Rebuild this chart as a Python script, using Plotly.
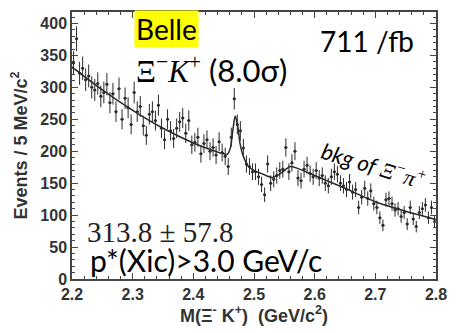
import plotly.graph_objects as go

# ---- data ----
bin_width = 0.005
bin_centers = [round(2.2025 + 0.005 * i, 4) for i in range(120)]
events = [
    338, 376, 322, 330, 312, 318, 300, 296, 306, 286, 292, 305, 276, 290, 262, 298, 250, 283, 268, 242,
    292, 262, 270, 240, 225, 258, 262, 248, 272, 236, 218, 250, 232, 220, 236, 246, 252, 228, 248, 210,
    214, 222, 196, 212, 218, 200, 206, 194, 215, 198, 192, 176, 222, 282, 242, 232, 205, 180, 176, 168,
    168, 160, 148, 132, 180, 150, 156, 162, 170, 172, 206, 168, 182, 200, 158, 154, 172, 178, 165, 160,
    170, 158, 162, 150, 146, 160, 168, 164, 150, 146, 140, 152, 136, 140, 112, 128, 142, 126, 138, 118,
    112, 96, 84, 124, 126, 118, 108, 110, 98, 104, 86, 112, 94, 82, 104, 110, 116, 96, 112, 90,
]
fit_x = [2.20, 2.25, 2.30, 2.35, 2.40, 2.43, 2.45, 2.456, 2.461, 2.465, 2.469, 2.473, 2.477,
         2.481, 2.486, 2.49, 2.50, 2.515, 2.53, 2.545, 2.56, 2.575, 2.59, 2.60, 2.65, 2.70, 2.75, 2.80]
fit_y = [332, 296, 264, 236, 213, 202, 196, 195, 205, 232, 255, 240, 212,
         196, 184, 177, 170, 164, 159, 166, 176, 172, 166, 162, 142, 121, 106, 93]

x_ticks = [2.2, 2.3, 2.4, 2.5, 2.6, 2.7, 2.8]
y_ticks = [0, 50, 100, 150, 200, 250, 300, 350, 400]

ink = "#2a2a2a"
calib = "Lato, 'Open Sans', sans-serif"
serif = "'Liberation Serif', 'DejaVu Serif', serif"
sans = "'Liberation Sans', Arial, sans-serif"

fig = go.Figure()
fig.add_trace(go.Scatter(
    x=bin_centers, y=events, mode="markers",
    marker=dict(size=3, color=ink),
    error_y=dict(type="sqrt", thickness=1, width=0, color=ink),
    error_x=dict(type="constant", value=bin_width / 2, thickness=1, width=0, color=ink),
    showlegend=False,
))
fig.add_trace(go.Scatter(
    x=fit_x, y=fit_y, mode="lines",
    line=dict(color=ink, width=1.5, shape="spline", smoothing=0.8),
    showlegend=False,
))

axis_common = dict(
    showline=True, linecolor="#444", linewidth=1.5, mirror="ticks",
    ticks="inside", ticklen=6, tickcolor="#444", showgrid=False, zeroline=False,
    tickfont=dict(family=sans, size=16, color="#333"),
)
fig.update_xaxes(
    range=[2.2, 2.8], tickvals=x_ticks, ticktext=[f"<b>{v:.1f}</b>" for v in x_ticks],
    minor=dict(ticks="inside", ticklen=3, dtick=0.02, tickcolor="#444"),
    title=dict(text="<b>M(Ξ<sup>-</sup> K<sup>+</sup>)  (GeV/c<sup>2</sup>)</b>",
               font=dict(family=sans, size=18, color="#333"),
               standoff=7),
    **axis_common,
)
fig.update_yaxes(
    range=[0, 418], tickvals=y_ticks, ticktext=[f"<b>{v}</b>" for v in y_ticks],
    minor=dict(ticks="inside", ticklen=3, dtick=10, tickcolor="#444"),
    title=dict(text="<b>Events / 5 MeV/c<sup>2</sup></b>",
               font=dict(family=sans, size=18, color="#333"),
               standoff=8),
    **axis_common,
)

annos = [
    dict(x=2.355, y=392, text="Belle", font=dict(family=calib, size=28, color="black"),
         bgcolor="#FFFF00", borderpad=1, xanchor="center"),
    dict(x=2.303, y=328, xanchor="left",
         text=f"<span style=\"font-family:{serif}\">Ξ<sup>−</sup><i>K</i><sup>+</sup></span> (8.0σ)",
         font=dict(family=calib, size=31, color="black")),
    dict(x=2.606, y=372, xanchor="left", text="711 /fb",
         font=dict(family=calib, size=28, color="black")),
    dict(x=2.698, y=178, text="<i>bkg of</i> <span style=\"font-family:" + serif + "\"><i>Ξ<sup>−</sup>π<sup>+</sup></i></span>",
         textangle=17, font=dict(family=calib, size=22, color="black")),
    dict(x=2.222, y=74, xanchor="left", text="313.8 ± 57.8",
         font=dict(family=serif, size=29, color="#222")),
    dict(x=2.227, y=29, xanchor="left", text="p*(Xic)>3.0 GeV/c",
         font=dict(family=calib, size=30, color="black")),
]
for a in annos:
    fig.add_annotation(xref="x", yref="y", showarrow=False, yanchor="middle", **a)

fig.update_layout(
    width=457, height=333,
    margin=dict(l=72, r=13, t=10, b=48),
    plot_bgcolor="white", paper_bgcolor="white",
)
fig.write_html("out.html")
